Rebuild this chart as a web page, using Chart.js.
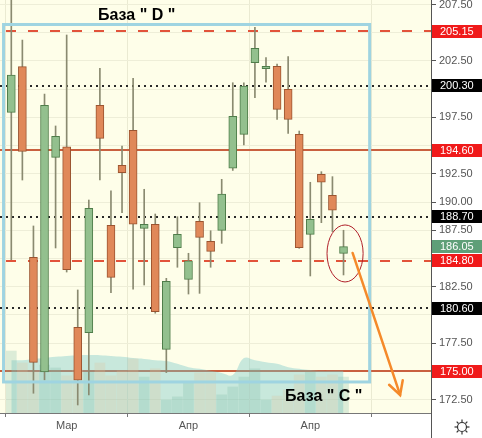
<!DOCTYPE html>
<html><head><meta charset="utf-8">
<script src="https://cdn.jsdelivr.net/npm/chart.js@4.4.1/dist/chart.umd.min.js"></script>
<style>html,body{margin:0;padding:0;background:#fff;}#wrap{width:482px;height:438px;}</style>
</head><body><div id="wrap"><canvas id="c" width="482" height="438"></canvas></div>
<script>
// ---- data ----
const opens  = [197.95, 202.00, 185.10, 174.95, 193.96, 194.90, 178.90, 178.43, 198.57, 187.94, 193.25, 196.35, 187.67, 188.03, 176.95, 185.96, 183.15, 188.29, 186.52, 187.49, 192.99, 196.00, 202.35, 201.81, 202.02, 199.98, 196.00, 187.14, 192.45, 190.59, 185.45];
const closes = [201.25, 194.49, 175.80, 198.57, 195.82, 184.00, 174.21, 189.44, 195.64, 183.33, 192.60, 188.03, 188.03, 180.29, 182.98, 187.14, 184.80, 186.87, 185.63, 190.71, 197.59, 200.28, 203.61, 202.02, 198.21, 197.33, 185.96, 188.47, 191.75, 189.27, 186.05];
const highs  = [208.20, 204.35, 187.88, 199.57, 196.74, 204.80, 182.21, 190.18, 201.84, 191.00, 194.96, 200.96, 191.13, 188.94, 183.24, 188.70, 185.46, 189.94, 187.46, 192.01, 200.57, 200.57, 205.47, 202.79, 202.23, 202.88, 196.29, 191.75, 192.69, 192.25, 187.50];
const lows   = [184.90, 191.95, 173.06, 174.24, 185.93, 183.80, 172.02, 172.91, 191.95, 181.97, 189.06, 182.27, 182.65, 180.15, 174.89, 184.22, 181.85, 181.91, 184.22, 186.34, 192.80, 195.05, 199.25, 200.63, 197.33, 196.09, 185.90, 183.45, 188.17, 187.38, 183.54];
const volumes   = [15.0, 12.1, 9.9, 11.6, 10.9, 9.0, 10.4, 9.9, 12.1, 9.0, 10.2, 13.1, 8.7, 10.7, 3.1, 3.9, 7.3, 9.7, 9.7, 4.4, 6.3, 8.7, 10.7, 3.1, 4.1, 5.6, 9.2, 9.9, 8.7, 9.2, 8.7];
const volumeMA  = [12.8, 12.8, 13.1, 13.3, 13.6, 13.8, 14.0, 14.0, 14.0, 13.8, 13.6, 13.3, 13.1, 12.8, 12.6, 11.9, 11.1, 10.7, 10.2, 9.7, 9.2, 13.3, 12.8, 12.3, 11.9, 11.1, 10.7, 10.4, 10.2, 10.2, 10.2];
const xTickPositions = [5, 16, 27];
const xTickLabels = ['Мар', 'Апр', 'Апр'];
const yTicks = [172.5, 175, 177.5, 180, 182.5, 185, 187.5, 190, 192.5, 195, 197.5, 200, 202.5, 205, 207.5];
const dashedLevels = [205.15, 184.80];
const dottedLevels = [200.30, 188.70, 180.60];
const solidLevels  = [194.60, 175.00];
const lastPrice = 186.05;

// ---- drawings (in data coordinates) ----
const drawings = {
  rect: {x0: -0.70, x1: 32.36, y0: 205.73, y1: 174.06},
  ellipse: {x0: 28.51, x1: 31.77, y0: 187.97, y1: 182.92},
  arrow: {x0: 30.82, y0: 185.49, x1: 35.11, y1: 172.91},
  textD: {x: 7.83, y: 206.12, text: 'База " D "'},
  textC: {x: 24.72, y: 172.38, text: 'База " C "'}
};

const idx = opens.map((_, i) => i);
const up = idx.map(i => closes[i] >= opens[i]);
const labelled = [...dashedLevels, ...dottedLevels, ...solidLevels, lastPrice];

const bgPlugin = {
  id: 'bg',
  beforeDraw(chart) {
    const {ctx, chartArea: a} = chart;
    ctx.save();
    ctx.fillStyle = '#ffffff';
    ctx.fillRect(0, 0, chart.width, chart.height);
    ctx.fillStyle = '#FEFEE9';
    ctx.fillRect(a.left, a.top, a.right - a.left, a.bottom - a.top);
    ctx.restore();
  }
};

const levelsPlugin = {
  id: 'levels',
  beforeDatasetsDraw(chart) {
    const {ctx, chartArea: a, scales: {y}} = chart;
    ctx.save();
    ctx.beginPath(); ctx.rect(a.left, a.top, a.right - a.left, a.bottom - a.top); ctx.clip();
    const line = (p, color, w, dash, off) => {
      const py = Math.round(y.getPixelForValue(p));
      ctx.strokeStyle = color; ctx.lineWidth = w; ctx.setLineDash(dash); ctx.lineDashOffset = off;
      ctx.beginPath(); ctx.moveTo(a.left, py); ctx.lineTo(a.right, py); ctx.stroke();
    };
    solidLevels.forEach(p => line(p, '#C9603F', 2, [], 0));
    dashedLevels.forEach(p => line(p, '#E2533A', 2, [10, 12], -6));
    dottedLevels.forEach(p => line(p, '#2a2a2a', 2, [2, 4], 0));
    ctx.restore();
  },
  afterDatasetsDraw(chart) {
    const {ctx, scales: {x, y}} = chart;
    ctx.save();
    const r = drawings.rect;
    const rx0 = x.getPixelForValue(r.x0), rx1 = x.getPixelForValue(r.x1);
    const ry0 = y.getPixelForValue(r.y0), ry1 = y.getPixelForValue(r.y1);
    ctx.strokeStyle = '#9FD4E1'; ctx.lineWidth = 3; ctx.setLineDash([]);
    ctx.strokeRect(rx0, ry0, rx1 - rx0, ry1 - ry0);
    const e = drawings.ellipse;
    const ex0 = x.getPixelForValue(e.x0), ex1 = x.getPixelForValue(e.x1);
    const ey0 = y.getPixelForValue(e.y0), ey1 = y.getPixelForValue(e.y1);
    ctx.strokeStyle = '#B0202A'; ctx.lineWidth = 1;
    ctx.beginPath();
    ctx.ellipse((ex0 + ex1) / 2, (ey0 + ey1) / 2, Math.abs(ex1 - ex0) / 2, Math.abs(ey1 - ey0) / 2, 0, 0, Math.PI * 2);
    ctx.stroke();
    const ar = drawings.arrow;
    const ax0 = x.getPixelForValue(ar.x0), ay0 = y.getPixelForValue(ar.y0);
    const ax1 = x.getPixelForValue(ar.x1), ay1 = y.getPixelForValue(ar.y1);
    ctx.strokeStyle = '#F58A2A'; ctx.lineWidth = 2.5; ctx.lineCap = 'round';
    ctx.beginPath(); ctx.moveTo(ax0, ay0); ctx.lineTo(ax1, ay1); ctx.stroke();
    const ang = Math.atan2(ay1 - ay0, ax1 - ax0);
    const hl = 15, ha = 0.5;
    ctx.beginPath();
    ctx.moveTo(ax1 - hl * Math.cos(ang - ha), ay1 - hl * Math.sin(ang - ha));
    ctx.lineTo(ax1, ay1);
    ctx.lineTo(ax1 - hl * Math.cos(ang + ha), ay1 - hl * Math.sin(ang + ha));
    ctx.stroke();
    ctx.fillStyle = '#000'; ctx.font = 'bold 16px "Liberation Sans", Arial, sans-serif';
    ctx.textAlign = 'left'; ctx.textBaseline = 'alphabetic';
    [drawings.textD, drawings.textC].forEach(t => {
      ctx.fillText(t.text, x.getPixelForValue(t.x), y.getPixelForValue(t.y));
    });
    ctx.restore();
  },
  afterDraw(chart) {
    const {ctx, chartArea: a, scales: {y}} = chart;
    ctx.save();
    ctx.strokeStyle = '#555'; ctx.lineWidth = 1;
    ctx.beginPath(); ctx.moveTo(a.right + 0.5, a.top); ctx.lineTo(a.right + 0.5, chart.height); ctx.stroke();
    const label = (p, bg) => {
      const py = y.getPixelForValue(p);
      ctx.fillStyle = bg;
      ctx.fillRect(a.right + 1, Math.round(py - 6.5), chart.width - a.right - 1, 13);
      ctx.fillStyle = '#fff';
      ctx.font = '11px "Liberation Sans", Arial, sans-serif';
      ctx.textAlign = 'left'; ctx.textBaseline = 'middle';
      ctx.fillText(p.toFixed(2), a.right + 9, py + 0.5);
    };
    dashedLevels.forEach(p => label(p, '#F01A1A'));
    solidLevels.forEach(p => label(p, '#F01A1A'));
    dottedLevels.forEach(p => label(p, '#000000'));
    label(lastPrice, '#5F9F78');
    const cx = 462, cy = 427;
    ctx.strokeStyle = '#333'; ctx.lineWidth = 1.2;
    ctx.beginPath(); ctx.arc(cx, cy, 4.5, 0, Math.PI * 2); ctx.stroke();
    for (let k = 0; k < 8; k++) {
      const t = k * Math.PI / 4;
      ctx.beginPath();
      ctx.moveTo(cx + 5 * Math.cos(t), cy + 5 * Math.sin(t));
      ctx.lineTo(cx + 7.5 * Math.cos(t), cy + 7.5 * Math.sin(t));
      ctx.stroke();
    }
    ctx.restore();
  }
};

new Chart(document.getElementById('c'), {
  data: {
    datasets: [
      {
        type: 'bar', yAxisID: 'y', order: 0, grouped: false,
        data: idx.map(i => ({x: i, y: [opens[i], closes[i]]})),
        backgroundColor: up.map(u => u ? '#93C08E' : '#E08859'),
        borderColor: up.map(u => u ? '#4F7D4A' : '#9B5430'),
        borderWidth: 1, borderSkipped: false, barThickness: 8
      },
      {
        type: 'bar', yAxisID: 'y', order: 1, grouped: false,
        data: idx.map(i => ({x: i, y: [lows[i], highs[i]]})),
        backgroundColor: '#8A8A70', borderWidth: 0, barThickness: 1
      },
      {
        type: 'bar', yAxisID: 'yv', order: 2, grouped: false,
        data: idx.map(i => ({x: i, y: volumes[i]})),
        backgroundColor: up.map(u => u ? 'rgba(120,185,165,0.25)' : 'rgba(225,190,150,0.25)'),
        borderWidth: 0, barThickness: 10
      },
      {
        type: 'line', yAxisID: 'yv', order: 3,
        data: idx.map(i => ({x: i, y: volumeMA[i]})),
        fill: 'origin', backgroundColor: 'rgba(120,200,200,0.4)',
        borderWidth: 0, pointRadius: 0, tension: 0.4
      }
    ]
  },
  options: {
    responsive: false, devicePixelRatio: 1, animation: false,
    layout: {padding: 0},
    plugins: {legend: {display: false}, tooltip: {enabled: false}},
    scales: {
      x: {
        type: 'linear', min: -1.02, max: 37.9, offset: false,
        afterBuildTicks: s => { s.ticks = xTickPositions.map(v => ({value: v})); },
        afterFit: s => { s.height = 25; s.paddingLeft = 0; s.paddingRight = 0; },
        ticks: {callback: (v, i) => xTickLabels[i], color: '#555', font: {size: 11, family: '"Liberation Sans", Arial'}, padding: 2, maxRotation: 0, autoSkip: false},
        grid: {color: '#EAEAD2', tickColor: '#777', tickLength: 4},
        border: {color: '#777'}
      },
      y: {
        type: 'linear', position: 'right', min: 171.31, max: 207.9,
        afterBuildTicks: s => { s.ticks = yTicks.map(v => ({value: v})); },
        afterFit: s => { s.width = 51; s.paddingTop = 0; s.paddingBottom = 0; },
        ticks: {
          callback: v => labelled.some(p => Math.abs(p - v) < 1) ? '' : Number(v).toFixed(2),
          color: '#555', font: {size: 11, family: '"Liberation Sans", Arial'}, padding: 3
        },
        grid: {color: '#EEEED8', tickColor: '#555', tickLength: 5},
        border: {color: '#555'}
      },
      yv: {type: 'linear', display: false, min: 0, max: 100}
    }
  },
  plugins: [bgPlugin, levelsPlugin]
});
</script>
</body></html>
